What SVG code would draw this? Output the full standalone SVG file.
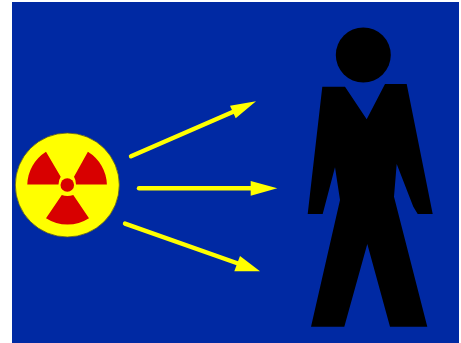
<svg xmlns="http://www.w3.org/2000/svg" width="461" height="343" viewBox="0 0 461 343">
<defs>
<filter id="soft" x="-5%" y="-5%" width="110%" height="110%"><feGaussianBlur stdDeviation="0.55"/></filter>
<style>.arrow{stroke:#ffff00;stroke-width:4.4;fill:none;stroke-linecap:round}.head{fill:#ffff00}.blade{fill:#d80000}</style>
</defs>
<rect width="461" height="343" fill="#ffffff"/>
<rect x="12" y="2" width="447" height="341" fill="#0029a3"/>
<g id="source" filter="url(#soft)">
<circle cx="67.3" cy="185" r="52" fill="#ffff00" stroke="#5a5a20" stroke-width="0.8"/>
<path class="blade" d="M27.3 184.5A40 40 0 0 1 46 151.7L60.7 176.7Q58.5 180 58.5 184.5Z"/>
<path class="blade" d="M106.9 184.5A40 40 0 0 0 87.9 151.7L74 176.7Q76 180 76 184.5Z"/>
<path class="blade" d="M46 218.3A40 40 0 0 0 89 218.3L73.3 195Q67.3 197 61.8 195Z"/>
<circle class="blade" cx="67.3" cy="185" r="6.8"/>
</g>
<g id="connectors" filter="url(#soft)">
<path class="arrow" d="M131 156.3L235 111"/><path class="head" d="M256 101.3L230 105.7L235.7 118.3Z"/>
<path class="arrow" d="M139 188.3H255"/><path class="head" d="M277.3 188.3L250.7 181V195.7Z"/>
<path class="arrow" d="M125 223.6L238 263.5"/><path class="head" d="M260 271.3L240 256L234.3 271.3Z"/>
</g>
<g id="person" filter="url(#soft)">
<circle cx="363.3" cy="55" r="27.5" fill="#000"/>
<path fill="#000" d="M322.3 86.7H345L366.7 119.3L385 84H406.7L432.7 214H417.7L413.3 206.7L396.7 164L394 196.7L427.3 326.7H390L367.3 244L344.3 326.7H311L340 200L335 167.3L322.7 214H307.7Z"/>
</g>
</svg>
